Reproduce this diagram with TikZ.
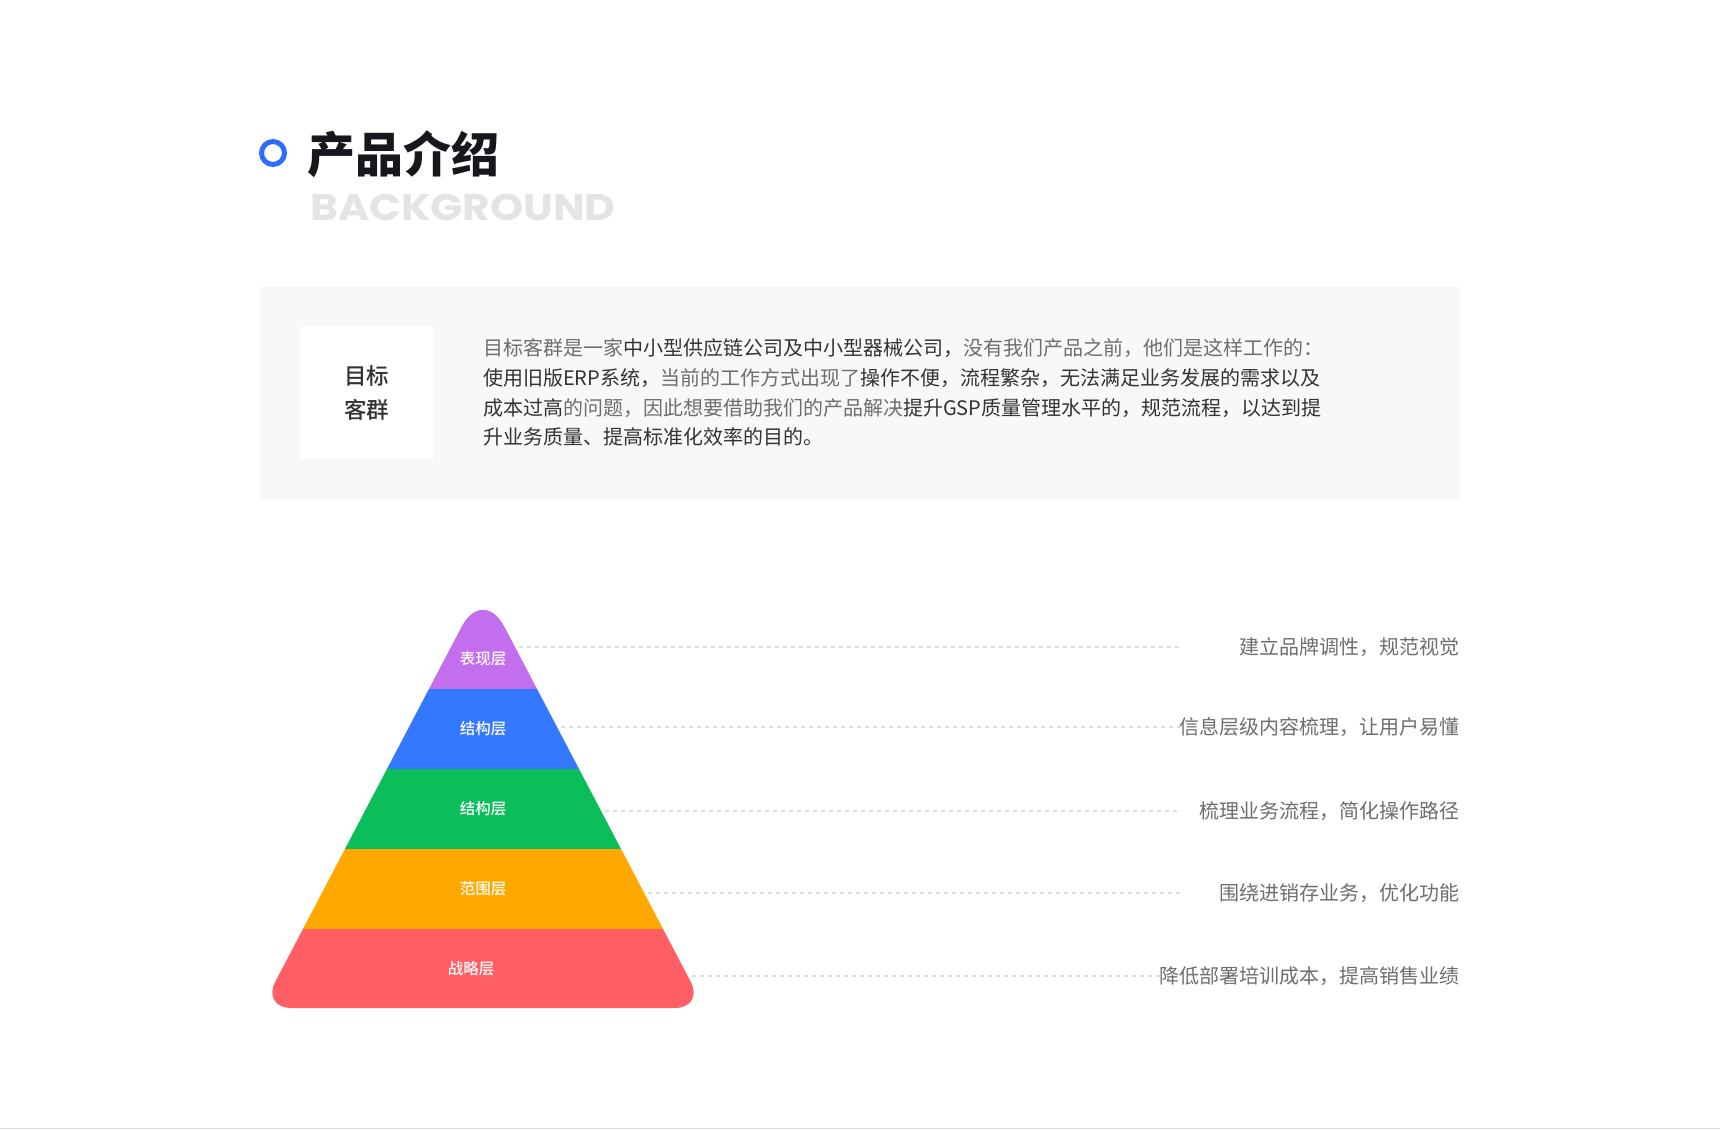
\documentclass[tikz,border=0pt]{standalone}
\usepackage{fontspec}
\setmainfont{Noto Sans CJK SC}
\newfontfamily\medfont{Noto Sans CJK SC}[UprightFont={* Medium}]
\newfontfamily\bgfont{Poppins}[FakeStretch=1.14]

\definecolor{azul}{HTML}{2F6BFF}
\definecolor{titulo}{HTML}{16181D}
\definecolor{fondo}{HTML}{E4E4E4}
\definecolor{caja}{HTML}{F8F8F8}
\definecolor{oscuro}{HTML}{333333}
\definecolor{claro}{HTML}{6E6E6E}
\definecolor{guiagris}{HTML}{DDDDDD}
\definecolor{capa1}{HTML}{C36EEC}
\definecolor{capa2}{HTML}{3478FF}
\definecolor{capa3}{HTML}{0CBE5A}
\definecolor{capa4}{HTML}{FFA800}
\definecolor{capa5}{HTML}{FF5F64}

\tikzset{
  capa/.style={font=\medfont\fontsize{15.5}{18}\selectfont, text=white, inner sep=0pt},
  desc/.style={font=\fontsize{20}{24}\selectfont, text=claro, fill=white,
    inner sep=0pt, anchor=east},
  guia/.style={draw=guiagris, line width=1.2pt, dash pattern=on 4pt off 4pt},
  linea/.style={font=\fontsize{20}{24}\selectfont, inner sep=0pt, anchor=west}
}

\begin{document}
\begin{tikzpicture}[x=1pt,y=-1pt]
    \useasboundingbox[fill=white] (0,0) rectangle (1720,1129);
    \draw[guiagris,line width=1pt] (0,1128.5) -- (1720,1128.5);

    % Titulo
    \draw[azul,line width=5pt] (273,153) circle (11.5);
    \node[anchor=west,inner sep=0pt,text=titulo,
      font=\bfseries\fontsize{48}{52}\selectfont] (titulo) at (307,154) {产品介绍};
    \node[anchor=base west,inner sep=0pt,text=fondo,
      font=\bgfont\bfseries\fontsize{37}{40}\selectfont] (sub) at (310,220) {BACKGROUND};

    % Caja gris con el texto
    \fill[caja] (260,287) rectangle (1460,500);
    \node[fill=white,minimum width=133pt,minimum height=132pt,inner sep=0pt,
      align=center,text=oscuro,font=\medfont\fontsize{22.5}{34}\selectfont] (grupo) at (366.5,393) {目标\\客群};

    \node[linea] (l1) at (483,348) {\color{claro}目标客群是一家\color{oscuro}中小型供应链公司及中小型器械公司，\color{claro}没有我们产品之前，他们是这样工作的：};
    \node[linea] (l2) at (483,378) {\color{oscuro}使用旧版ERP系统，\color{claro}当前的工作方式出现了\color{oscuro}操作不便，流程繁杂，无法满足业务发展的需求以及};
    \node[linea] (l3) at (483,408) {\color{oscuro}成本过高\color{claro}的问题，因此想要借助我们的产品解决\color{oscuro}提升GSP质量管理水平的，规范流程，以达到提};
    \node[linea] (l4) at (483,437) {\color{oscuro}升业务质量、提高标准化效率的目的。};

    % Piramide
    \begin{scope}
      \clip (483,1008) [rounded corners=30pt] -- (704.5,1008) [rounded corners=46pt] -- (483,586)
        [rounded corners=30pt] -- (261.5,1008) -- cycle;
      \fill[capa1] (250,580) rectangle (720,689);
      \fill[capa2] (250,689) rectangle (720,769);
      \fill[capa3] (250,769) rectangle (720,849);
      \fill[capa4] (250,849) rectangle (720,929);
      \fill[capa5] (250,929) rectangle (720,1012);
    \end{scope}
    \node[capa] (c1) at (483,659) {表现层};
    \node[capa] (c2) at (483,729) {结构层};
    \node[capa] (c3) at (483,809) {结构层};
    \node[capa] (c4) at (483,889) {范围层};
    \node[capa] (c5) at (471,969) {战略层};

    % Lineas guia y descripciones
    \coordinate (p1) at (519,647);  \coordinate (q1) at (1181,647);
    \coordinate (p2) at (561,727);  \coordinate (q2) at (1181,727);
    \coordinate (p3) at (605,811);  \coordinate (q3) at (1181,811);
    \coordinate (p4) at (648,893);  \coordinate (q4) at (1181,893);
    \coordinate (p5) at (692,976);  \coordinate (q5) at (1181,976);
    \draw[guia] (p1) -- (q1);
    \draw[guia] (p2) -- (q2);
    \draw[guia] (p3) -- (q3);
    \draw[guia] (p4) -- (q4);
    \draw[guia] (p5) -- (q5);

    \node[desc] (d1) at (1460,647) {建立品牌调性，规范视觉};
    \node[desc] (d2) at (1460,727) {信息层级内容梳理，让用户易懂};
    \node[desc] (d3) at (1460,811) {梳理业务流程，简化操作路径};
    \node[desc] (d4) at (1460,893) {围绕进销存业务，优化功能};
    \node[desc] (d5) at (1460,976) {降低部署培训成本，提高销售业绩};
  \end{tikzpicture}
\end{document}
